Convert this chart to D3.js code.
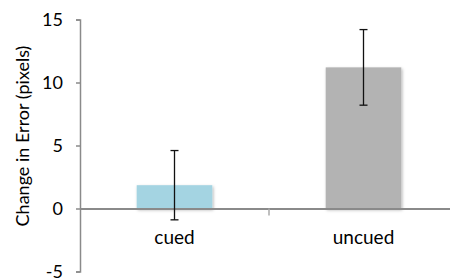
<!DOCTYPE html>
<html><head><meta charset="utf-8">
<script src="https://cdn.jsdelivr.net/npm/d3@7"></script>
<style>body{margin:0;background:#fff}svg{display:block}</style>
</head><body><svg id="c" width="450" height="279"></svg>
<script>
const categories = ["cued", "uncued"];
const values = [1.85, 11.2];
const errors = [2.75, 3.0];
const barColors = ["#A4D4E2", "#B3B3B3"];
const yTicks = [-5, 0, 5, 10, 15];

const svg = d3.select("#c");
const font = "Lato, 'Open Sans', sans-serif";
const y = d3.scaleLinear().domain([-5, 15]).range([271.5, 19.5]);
const x = d3.scaleBand().domain(categories).range([80, 458]).padding(0);
const bw = x.bandwidth() * 0.4;

const defs = svg.append("defs");
const f = defs.append("filter").attr("id", "sh").attr("x", "-20%").attr("y", "-20%").attr("width", "140%").attr("height", "140%");
f.append("feDropShadow").attr("dx", 1).attr("dy", 1.5).attr("stdDeviation", 1.5).attr("flood-color", "#000").attr("flood-opacity", 0.3);

// bars
svg.selectAll("rect.bar").data(categories).join("rect")
  .attr("class", "bar")
  .attr("x", d => x(d) + (x.bandwidth() - bw) / 2)
  .attr("width", bw)
  .attr("y", (d, i) => y(values[i]))
  .attr("height", (d, i) => y(0) - y(values[i]))
  .attr("fill", (d, i) => barColors[i])
  .attr("filter", "url(#sh)");

// y axis
const ya = svg.append("g").attr("transform", "translate(80,0)")
  .call(d3.axisLeft(y).tickValues(yTicks).tickSize(4).tickPadding(13).tickFormat(d => String(d)));
ya.select(".domain").attr("stroke", "#8a8a8a").attr("stroke-width", 1.5);
ya.selectAll(".tick line").attr("stroke", "#8a8a8a").attr("stroke-width", 1.5);
ya.selectAll(".tick text").attr("font-family", font).attr("font-size", 18).attr("fill", "#000");

// x axis at zero
const xa = svg.append("g").attr("transform", `translate(0,${y(0)})`)
  .call(d3.axisBottom(x).tickSize(0).tickPadding(22));
xa.select(".domain").attr("stroke", "#8a8a8a").attr("stroke-width", 2);
xa.selectAll(".tick text").attr("font-family", font).attr("font-size", 19).attr("fill", "#000");
// divider tick between categories
svg.append("line").attr("x1", x("uncued")).attr("x2", x("uncued"))
  .attr("y1", y(0)).attr("y2", y(0) + 7).attr("stroke", "#aaa").attr("stroke-width", 1.5);

// error bars
const eb = svg.selectAll("g.err").data(categories).join("g").attr("class", "err");
eb.append("line")
  .attr("x1", d => x(d) + x.bandwidth() / 2).attr("x2", d => x(d) + x.bandwidth() / 2)
  .attr("y1", (d, i) => y(values[i] + errors[i])).attr("y2", (d, i) => y(values[i] - errors[i]))
  .attr("stroke", "#111").attr("stroke-width", 1.3);
["+", "-"].forEach(s => {
  eb.append("line")
    .attr("x1", d => x(d) + x.bandwidth() / 2 - 4).attr("x2", d => x(d) + x.bandwidth() / 2 + 4)
    .attr("y1", (d, i) => y(values[i] + (s === "+" ? 1 : -1) * errors[i]))
    .attr("y2", (d, i) => y(values[i] + (s === "+" ? 1 : -1) * errors[i]))
    .attr("stroke", "#111").attr("stroke-width", 1.3);
});

// y title
svg.append("text")
  .attr("transform", "translate(29,136) rotate(-90)")
  .attr("text-anchor", "middle")
  .attr("font-family", font).attr("font-size", 18).attr("fill", "#000")
  .text("Change in Error (pixels)");
</script></body></html>
